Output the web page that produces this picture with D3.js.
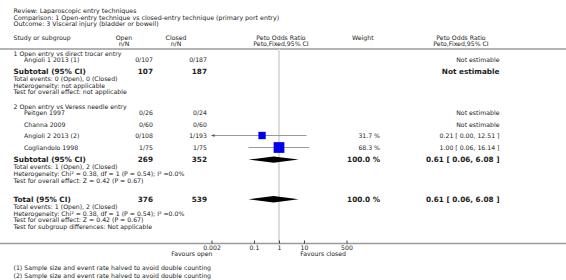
<!DOCTYPE html>
<html>
<head>
<meta charset="utf-8">
<script src="https://cdn.jsdelivr.net/npm/d3@7"></script>
<style>
  body { margin: 0; background: #fff; }
  svg { display: block; font-family: "DejaVu Sans", Verdana, sans-serif; }
  text { fill: #222; }
</style>
</head>
<body>
<svg id="forest-svg" width="566" height="280"></svg>
<script>
// Header text
const headerLines = [
    "Review:  Laparoscopic entry techniques",
    "Comparison:  1 Open-entry technique vs closed-entry technique (primary port entry)",
    "Outcome:  3 Visceral injury (bladder or bowell)"
];

// Subgroups
const groupNames = ["1 Open entry vs direct trocar entry", "2 Open entry vs Veress needle entry"];

// Individual studies
const studyNames = ["Angioli 1 2013 (1)", "Peitgen 1997", "Channa 2009", "Angioli 2 2013 (2)", "Cogliandolo 1998"];
const openCounts = ["0/107", "0/26", "0/60", "0/108", "1/75"];
const closedCounts = ["0/187", "0/24", "0/60", "1/193", "1/75"];
const studyWeights = [null, null, null, 31.7, 68.3];
const studyOR = [null, null, null, 0.21, 1.00];
const studyLower = [null, null, null, 0.00, 0.06];
const studyUpper = [null, null, null, 12.51, 16.14];

// Subtotals and total
const summaryNames = ["Subtotal (95% CI)", "Subtotal (95% CI)", "Total (95% CI)"];
const summaryOpenN = [107, 269, 376];
const summaryClosedN = [187, 352, 539];
const summaryWeight = [null, 100.0, 100.0];
const summaryOR = [null, 0.61, 0.61];
const summaryLower = [null, 0.06, 0.06];
const summaryUpper = [null, 6.08, 6.08];
const summaryNotes = [
    ["Total events: 0 (Open), 0 (Closed)", "Heterogeneity: not applicable", "Test for overall effect: not applicable"],
    ["Total events: 1 (Open), 2 (Closed)", "Heterogeneity: Chi² = 0.38, df = 1 (P = 0.54); I² =0.0%", "Test for overall effect: Z = 0.42 (P = 0.67)"],
    ["Total events: 1 (Open), 2 (Closed)", "Heterogeneity: Chi² = 0.38, df = 1 (P = 0.54); I² =0.0%", "Test for overall effect: Z = 0.42 (P = 0.67)", "Test for subgroup differences: Not applicable"]
];

// Axis
const axisTicks = [0.002, 0.1, 1, 10, 500];
const favourLabels = ["Favours open", "Favours closed"];
const footnotes = [
    "(1) Sample size and event rate halved to avoid double counting",
    "(2) Sample size and event rate halved to avoid double counting"
];

function drawForest() {
    const svg = d3.select("#forest-svg");
    const W = 566;

    // Column positions
    const col = { left: 13.5, study: 24, open: 153, closed: 207, weight: 380, ci: 499.5 };
    const fs = 6.2, fsBold = 7.3;

    // Row positions
    const rows = {
        header: [11, 17.3, 23.6],
        colHead: [38, 44],
        topLine: 49,
        group: [53.5, 106.5],
        study: [60, 113, 125, 135.5, 147.5],
        summary: [71.2, 159.6, 199.2],
        noteStart: [79, 167.3, 206.9],
        noteStep: 6.6,
        axisLine: 243.5,
        favours: 254,
        foot: [267.5, 276]
    };

    const x = d3.scaleLog().domain([0.002, 500]).range([211.5, 346.5]);

    function txt(xp, yp, s, opts = {}) {
        return svg.append("text")
            .attr("x", xp).attr("y", yp).attr("dy", "0.35em")
            .attr("font-size", opts.size || fs)
            .attr("font-weight", opts.bold ? "bold" : "normal")
            .attr("text-anchor", opts.anchor || "start")
            .text(s);
    }

    // Title lines
    headerLines.forEach((s, i) => txt(col.left, rows.header[i], s, { size: 6.3 }));

    // Column headings
    txt(col.left, rows.colHead[0], "Study or subgroup");
    txt(124, rows.colHead[0], "Open", { anchor: "middle" });
    txt(124, rows.colHead[1], "n/N", { anchor: "middle" });
    txt(176, rows.colHead[0], "Closed", { anchor: "middle" });
    txt(176, rows.colHead[1], "n/N", { anchor: "middle" });
    txt(281, rows.colHead[0], "Peto Odds Ratio", { anchor: "middle" });
    txt(281, rows.colHead[1], "Peto,Fixed,95% CI", { anchor: "middle" });
    txt(352, rows.colHead[0], "Weight");
    txt(461, rows.colHead[0], "Peto Odds Ratio", { anchor: "middle" });
    txt(461, rows.colHead[1], "Peto,Fixed,95% CI", { anchor: "middle" });

    // Horizontal rule under the headings
    svg.append("line").attr("x1", 0).attr("x2", W)
        .attr("y1", rows.topLine).attr("y2", rows.topLine)
        .attr("stroke", "#9a9a9a").attr("stroke-width", 1.5);

    // Line of no effect
    svg.append("line").attr("x1", x(1)).attr("x2", x(1))
        .attr("y1", rows.topLine).attr("y2", rows.axisLine)
        .attr("stroke", "#dcdcdc").attr("stroke-width", 2);

    // Subgroup headings
    groupNames.forEach((g, i) => txt(col.left, rows.group[i], g));

    // Studies
    studyNames.forEach((name, i) => {
        const y = rows.study[i];
        txt(col.study, y, name);
        txt(col.open, y, openCounts[i], { anchor: "end" });
        txt(col.closed, y, closedCounts[i], { anchor: "end" });
        if (studyOR[i] == null) {
            txt(col.ci, y, "Not estimable", { anchor: "end" });
            return;
        }
        txt(col.weight, y, studyWeights[i].toFixed(1) + " %", { anchor: "end" });
        txt(col.ci, y, `${studyOR[i].toFixed(2)} [ ${studyLower[i].toFixed(2)}, ${studyUpper[i].toFixed(2)} ]`, { anchor: "end" });

        const lo = Math.max(studyLower[i], x.domain()[0]);
        const hi = Math.min(studyUpper[i], x.domain()[1]);
        svg.append("line").attr("x1", x(lo)).attr("x2", x(hi))
            .attr("y1", y).attr("y2", y)
            .attr("stroke", "#999").attr("stroke-width", 1);
        if (studyLower[i] < x.domain()[0]) {
            // arrow for truncated CI
            const ax = x(x.domain()[0]);
            svg.append("path")
                .attr("d", `M${ax},${y} L${ax + 3},${y - 1.5} L${ax + 3},${y + 1.5} Z`)
                .attr("fill", "#555");
        }
        const side = 13 * Math.sqrt(studyWeights[i] / 100);
        svg.append("rect")
            .attr("x", x(studyOR[i]) - side / 2).attr("y", y - side / 2)
            .attr("width", side).attr("height", side)
            .attr("fill", "#0000ee");
    });

    // Subtotals / total
    summaryNames.forEach((name, i) => {
        const y = rows.summary[i];
        txt(col.left, y, name, { size: fsBold, bold: true });
        txt(col.open, y, summaryOpenN[i], { size: fsBold, bold: true, anchor: "end" });
        txt(col.closed, y, summaryClosedN[i], { size: fsBold, bold: true, anchor: "end" });
        if (summaryOR[i] == null) {
            txt(col.ci, y, "Not estimable", { size: fsBold, bold: true, anchor: "end" });
        } else {
            txt(col.weight, y, summaryWeight[i].toFixed(1) + " %", { size: fsBold, bold: true, anchor: "end" });
            txt(col.ci, y, `${summaryOR[i].toFixed(2)} [ ${summaryLower[i].toFixed(2)}, ${summaryUpper[i].toFixed(2)} ]`,
                { size: fsBold, bold: true, anchor: "end" });
            const h = 3.2;
            svg.append("path")
                .attr("d", `M${x(summaryLower[i])},${y} L${x(summaryOR[i])},${y - h} L${x(summaryUpper[i])},${y} L${x(summaryOR[i])},${y + h} Z`)
                .attr("fill", "#000");
        }
        summaryNotes[i].forEach((n, j) => txt(col.left, rows.noteStart[i] + j * rows.noteStep, n));
    });

    // Bottom axis line across the page
    svg.append("line").attr("x1", 0).attr("x2", W)
        .attr("y1", rows.axisLine).attr("y2", rows.axisLine)
        .attr("stroke", "#9a9a9a").attr("stroke-width", 1.5);

    const axis = svg.append("g")
        .attr("transform", `translate(0, ${rows.axisLine})`)
        .call(d3.axisBottom(x).tickValues(axisTicks).tickFormat(d => d).tickSize(-3).tickPadding(2.5));
    axis.select(".domain").remove();
    axis.selectAll(".tick line").attr("stroke", "#444");
    axis.selectAll(".tick text").attr("font-size", fs).attr("font-family", "DejaVu Sans").attr("fill", "#222");

    txt(212.5, rows.favours, favourLabels[0], { anchor: "end" });
    txt(346, rows.favours, favourLabels[1], { anchor: "end" });

    footnotes.forEach((f, i) => txt(col.left, rows.foot[i], f));
}

drawForest();
</script>
</body>
</html>
